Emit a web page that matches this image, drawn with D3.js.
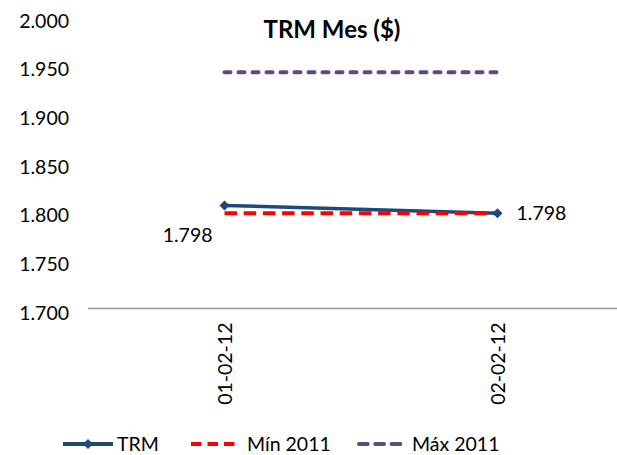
<!DOCTYPE html>
<html>
<head>
<meta charset="utf-8">
<script src="https://cdn.jsdelivr.net/npm/d3@7"></script>
<style>
  body { margin: 0; background: #fff; }
  text { font-family: Lato, "Open Sans", sans-serif; fill: #000; }
</style>
</head>
<body>
<div id="chart"></div>
<script>
    // datos
    var fechas = ["01-02-12", "02-02-12"];
    var trm = [1805.9, 1797.8];
    var min2011 = [1797.8, 1797.8];
    var max2011 = [1942.7, 1942.7];
    var yTicks = [1700, 1750, 1800, 1850, 1900, 1950, 2000];
    var series = ["TRM", "Mín 2011", "Máx 2011"];

    var width = 617,
        height = 455;

    var svg = d3.select("#chart")
        .append("svg")
        .attr("width", width)
        .attr("height", height)

    var es = d3.formatLocale({decimal: ",", thousands: ".", grouping: [3], currency: ["$", ""]});
    var fmt = es.format(",.0f");

    var x = d3.scalePoint().domain(fechas).range([88, 634]).padding(0.5);
    var y = d3.scaleLinear().domain([1700, 2000]).range([308.5, 16.5]);

    // eje y
    var yAxis = svg.append("g")
        .attr("transform", "translate(69,0)")
        .call(d3.axisLeft(y).tickValues(yTicks).tickSize(0).tickPadding(0).tickFormat(fmt))
    yAxis.select(".domain").remove();
    yAxis.selectAll("text")
        .attr("dy", "0.55em")
        .style("font-size", "19.5px")
        .style("font-family", "Lato, sans-serif");

    // eje x
    svg.append("line")
        .attr("x1", 88).attr("x2", width)
        .attr("y1", y(1700)).attr("y2", y(1700))
        .attr("stroke", "#999")
        .attr("stroke-width", 1.5)

    var xAxis = svg.append("g")
        .attr("transform", "translate(0," + y(1700) + ")")
        .call(d3.axisBottom(x).tickSize(0).tickPadding(0))
    xAxis.select(".domain").remove();
    xAxis.selectAll("text")
        .attr("transform", "rotate(-90)")
        .attr("text-anchor", "end")
        .attr("x", -14)
        .attr("y", 0)
        .attr("dy", "0.35em")
        .style("font-size", "19.5px")
        .style("font-family", "Lato, sans-serif");

    // titulo
    svg.append("text")
        .attr("x", 332)
        .attr("y", 38)
        .attr("text-anchor", "middle")
        .style("font-size", "24px")
        .style("font-weight", "bold")
        .text("TRM Mes ($)")

    var line = d3.line()
        .x(function(d, i){ return x(fechas[i]); })
        .y(function(d){ return y(d); })

    svg.append("path")
        .attr("d", line(max2011))
        .attr("fill", "none")
        .attr("stroke", "#604a7b")
        .attr("stroke-width", 4)
        .attr("stroke-linecap", "round")
        .attr("stroke-dasharray", "6,8")

    svg.append("path")
        .attr("d", line(trm))
        .attr("fill", "none")
        .attr("stroke", "#1f497d")
        .attr("stroke-width", 3.5)

    svg.append("path")
        .attr("d", line(min2011))
        .attr("fill", "none")
        .attr("stroke", "#ff0000")
        .attr("stroke-width", 4)
        .attr("stroke-dasharray", "12.5,6.7")

    var diamond = d3.symbol().type(d3.symbolDiamond2).size(64);

    svg.selectAll(".punto")
        .data(trm)
        .enter().append("path")
        .attr("class", "punto")
        .attr("d", diamond)
        .attr("fill", "#1f497d")
        .attr("transform", function(d, i){
            return "translate(" + x(fechas[i]) + "," + y(d) + ")";
        })

    // etiquetas de datos
    svg.append("text")
        .attr("x", x(fechas[1]) + 19)
        .attr("y", y(trm[1]))
        .attr("dy", "0.35em")
        .style("font-size", "19.5px")
        .text(fmt(trm[1]))

    svg.append("text")
        .attr("x", x(fechas[0]) - 12)
        .attr("y", y(min2011[0]) + 22)
        .attr("dy", "0.35em")
        .attr("text-anchor", "end")
        .style("font-size", "19.5px")
        .text(fmt(min2011[0]))

    // leyenda
    var leyenda = [
        {x: 63, color: "#1f497d", dash: null, cap: "butt", marker: true, tx: 117},
        {x: 191, color: "#ff0000", dash: "10.5,6", cap: "butt", marker: false, tx: 247},
        {x: 357, color: "#604a7b", dash: "8.7,7.6", cap: "round", marker: false, tx: 412}
    ];

    var ly = 444;
    var item = svg.selectAll(".leyenda")
        .data(leyenda)
        .enter().append("g")
        .attr("class", "leyenda")

    item.append("line")
        .attr("x1", function(d){ return d.cap == "round" ? d.x + 2 : d.x; })
        .attr("x2", function(d){ return d.x + (d.marker ? 50 : 44); })
        .attr("y1", ly).attr("y2", ly)
        .attr("stroke", function(d){ return d.color; })
        .attr("stroke-width", 4)
        .attr("stroke-linecap", function(d){ return d.cap; })
        .attr("stroke-dasharray", function(d){ return d.dash; })

    item.filter(function(d){ return d.marker; })
        .append("path")
        .attr("d", diamond)
        .attr("fill", function(d){ return d.color; })
        .attr("transform", function(d){ return "translate(" + (d.x + 25) + "," + ly + ")"; })

    item.append("text")
        .attr("x", function(d){ return d.tx; })
        .attr("y", ly)
        .attr("dy", "0.35em")
        .style("font-size", "19.5px")
        .text(function(d, i){ return series[i]; })
</script>
</body>
</html>
